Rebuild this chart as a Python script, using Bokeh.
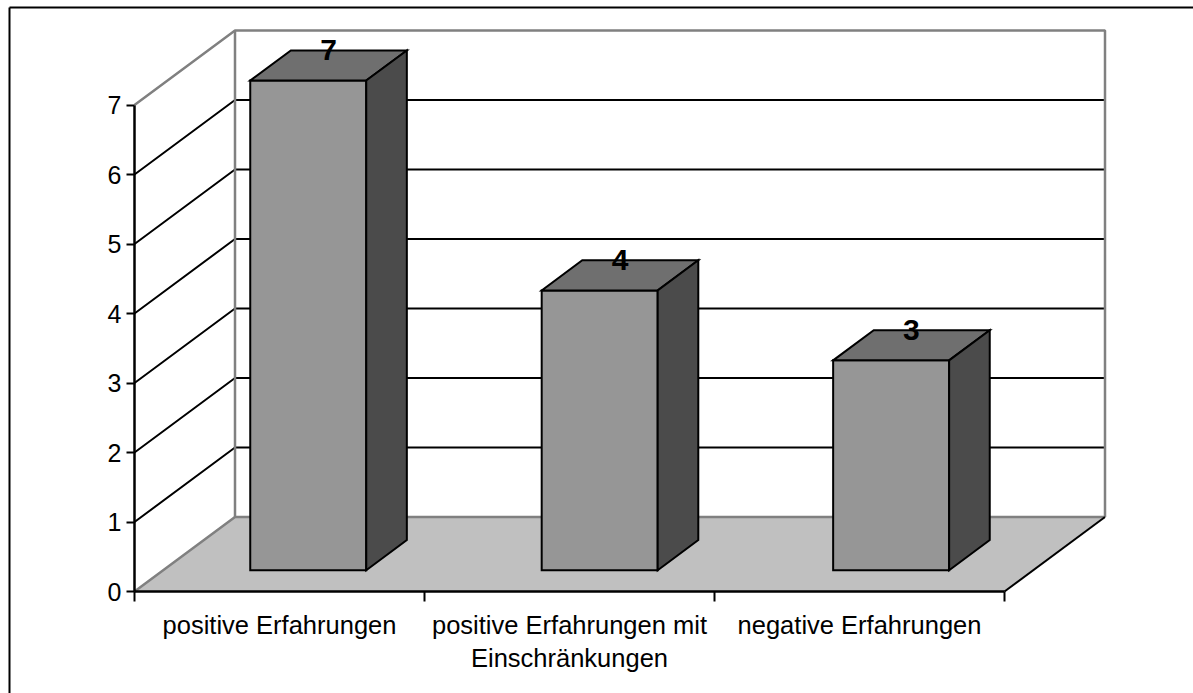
from bokeh.plotting import figure
from bokeh.models import Range1d, LinearAxis, FixedTicker
from bokeh.embed import file_html
from bokeh.resources import INLINE
from bokeh.core.properties import value

categories = ["positive Erfahrungen", "positive Erfahrungen mit\nEinschränkungen", "negative Erfahrungen"]
values = [7, 4, 3]
y_ticks = [0, 1, 2, 3, 4, 5, 6, 7]

FONT = "Liberation Sans"
W, H = 1193, 693
X0, Y0 = 134.0, 591.0      # figure pixels of the axes origin
CAT, UNIT = 290.0, 69.5    # pixels per category / per value unit
DX, DY = 100.5 / CAT, 74.5 / UNIT  # oblique offset of the back wall, in data units
D0, D1 = 0.286, 0.69       # depth span of the bars
GAP = 0.3                  # side gap in a category
BAR_STEP = 1.005           # bars sit very slightly wider apart than the ticks
BAR_SCALE = 1.0065         # and reach very slightly above their grid height


def proj(cat, val, depth=0.0):
    return cat + depth * DX, val + depth * DY


def path(*pts):
    xy = [proj(*q) for q in pts]
    return [a for a, _ in xy], [b for _, b in xy]


p = figure(width=W, height=H, output_backend="svg", toolbar_location=None,
           x_range=Range1d(-X0 / CAT, (W - X0) / CAT),
           y_range=Range1d((Y0 - H) / UNIT, Y0 / UNIT),
           min_border=0, outline_line_color=None,
           x_axis_type=None, y_axis_type=None)
p.grid.visible = False

n = len(categories)
top = max(y_ticks)
GRAY = "#808080"

# chart border: left and top only
xl, xr = p.x_range.start, p.x_range.end
yb, yt = p.y_range.start, p.y_range.end
bx = xl + 9.0 / CAT
by = yt - 7.0 / UNIT
p.line([bx, bx], [yb, by], line_color="black", line_width=2)
p.line([bx, xr], [by, by], line_color="black", line_width=2)

# grid lines on the left and back wall
for v in y_ticks[1:-1]:
    xs, ys = path((0, v, 0), (0, v, 1), (n, v, 1))
    p.line(xs, ys, line_color="black", line_width=2)

# wall outline
xs, ys = path((0, top, 0), (0, top, 1), (n, top, 1), (n, 0, 1))
p.line(xs, ys, line_color=GRAY, line_width=2.5)
xs, ys = path((0, top, 1), (0, 0, 1))
p.line(xs, ys, line_color=GRAY, line_width=2.5)

# floor
xs, ys = path((0, 0, 0), (n, 0, 0), (n, 0, 1), (0, 0, 1))
p.patch(xs, ys, fill_color="#c0c0c0", line_color=None)
xs, ys = path((0, 0, 0), (0, 0, 1), (n, 0, 1))
p.line(xs, ys, line_color=GRAY, line_width=2.5)
xs, ys = path((n, 0, 0), (n, 0, 1))
p.line(xs, ys, line_color="black", line_width=2)

# bars
for i, val in enumerate(values):
    v = val * BAR_SCALE
    a = i * BAR_STEP + GAP
    b = a + 1 - 2 * GAP
    xs, ys = path((a, 0, D0), (b, 0, D0), (b, v, D0), (a, v, D0))
    p.patch(xs, ys, fill_color="#969696", line_color="black", line_width=2, line_join="miter")
    xs, ys = path((a, v, D0), (b, v, D0), (b, v, D1), (a, v, D1))
    p.patch(xs, ys, fill_color="#6f6f6f", line_color="black", line_width=2, line_join="miter")
    xs, ys = path((b, 0, D0), (b, 0, D1), (b, v, D1), (b, v, D0))
    p.patch(xs, ys, fill_color="#4b4b4b", line_color="black", line_width=2, line_join="miter")

# value labels
lx = [i * BAR_STEP + 0.5 + (D0 + D1) / 2 * DX for i in range(n)]
ly = [v * BAR_SCALE + D1 * DY for v in values]
p.text(lx, ly, text=[str(v) for v in values], text_align="center", text_baseline="middle",
       text_font=value(FONT), text_font_style="bold", text_font_size="30px", text_color="black")

# axes
yax = LinearAxis(ticker=FixedTicker(ticks=y_ticks), fixed_location=0, bounds=(0, top),
                 axis_line_color="black", axis_line_width=2.5,
                 major_tick_in=0, major_tick_out=8, major_tick_line_width=2,
                 major_tick_line_color="black", minor_tick_line_color=None,
                 major_label_text_font=FONT, major_label_text_font_size="25px",
                 major_label_text_color="black", major_label_standoff=5)
p.add_layout(yax, "left")

centers = [i + 0.5 for i in range(n)]
xax = LinearAxis(ticker=FixedTicker(ticks=centers, minor_ticks=list(range(n + 1))),
                 fixed_location=0, bounds=(0, n),
                 axis_line_color="black", axis_line_width=2.5,
                 major_tick_in=0, major_tick_out=10, major_tick_line_color=None,
                 minor_tick_in=0, minor_tick_out=10, minor_tick_line_color="black",
                 minor_tick_line_width=2,
                 major_label_overrides=dict(zip(centers, categories)),
                 major_label_text_font=FONT, major_label_text_font_size="25.5px",
                 major_label_text_color="black", major_label_standoff=9,
                 major_label_text_line_height=1.2)
p.add_layout(xax, "below")

open("out.html", "w").write(file_html(p, INLINE))
